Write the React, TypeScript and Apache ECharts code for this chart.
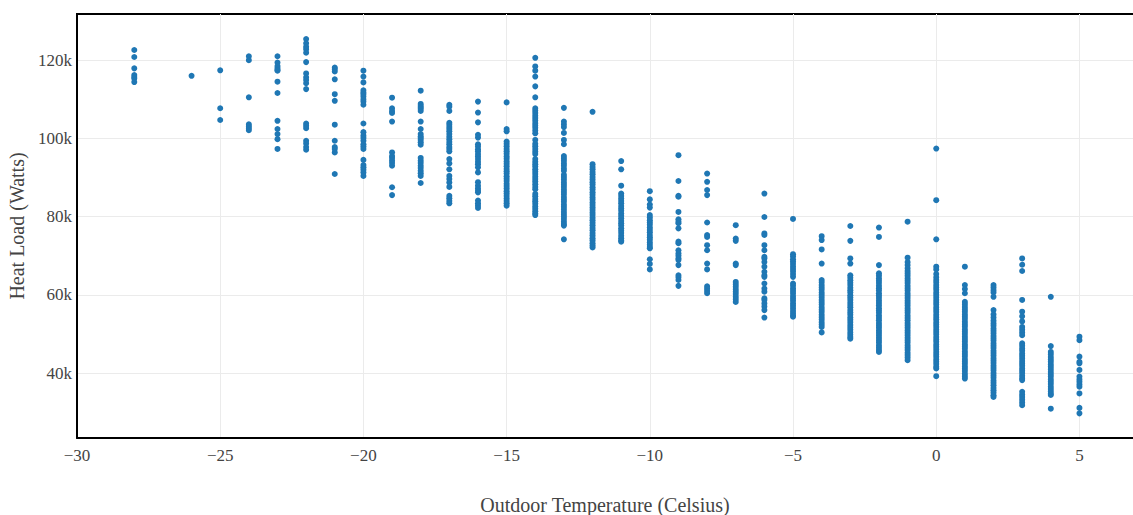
import React, { useEffect, useRef } from "react";
import * as echarts from "echarts";

// Outdoor temperature (°C) per column of points
const temperatures = [-28, -26, -25, -24, -23, -22, -21, -20, -19, -18, -17, -16, -15, -14, -13, -12, -11, -10, -9, -8, -7, -6, -5, -4, -3, -2, -1, 0, 1, 2, 3, 4, 5];

// Heat load in thousands of watts (k) for each temperature
const loadM28 = [122.6, 120.8, 117.9, 116.2, 115.7, 115.3, 114.4];
const loadM26 = [116.0];
const loadM25 = [117.4, 107.7, 104.7];
const loadM24 = [121.0, 120.0, 110.5, 103.6, 103.1, 102.6, 102.1];
const loadM23 = [121.0, 119.4, 118.5, 118.0, 117.5, 117.3, 114.5, 111.6, 104.5, 102.4, 101.1, 99.8, 97.3];
const loadM22 = [125.4, 124.3, 123.4, 122.8, 121.9, 119.5, 116.6, 115.6, 114.9, 114.1, 112.6, 103.8, 103.2, 102.6, 99.4, 98.7, 97.8, 97.1];
const loadM21 = [118.1, 117.7, 117.1, 115.1, 111.3, 109.6, 103.5, 99.4, 97.8, 97.3, 96.4, 90.9];
const loadM20 = [117.3, 115.8, 114.3, 112.3, 111.7, 111.3, 110.7, 110.0, 109.4, 108.6, 103.8, 101.6, 100.7, 100.1, 99.4, 98.5, 97.9, 97.3, 94.5, 93.2, 92.6, 92.0, 91.3, 90.4];
const loadM19 = [110.4, 107.7, 107.0, 106.5, 104.3, 96.4, 95.5, 95.0, 94.3, 93.7, 93.0, 87.5, 85.5];
const loadM18 = [112.2, 108.8, 108.3, 107.9, 107.5, 107.0, 104.3, 102.4, 101.1, 100.5, 100.1, 99.6, 99.0, 98.4, 95.0, 94.3, 93.7, 93.0, 92.4, 91.7, 91.1, 90.4, 88.6];
const loadM17 = [108.6, 108.1, 107.0, 104.0, 103.5, 102.9, 102.4, 101.8, 101.1, 100.4, 99.8, 99.1, 98.5, 97.8, 97.3, 96.7, 94.7, 93.6, 92.1, 90.4, 89.6, 88.7, 87.6, 85.3, 84.7, 84.0, 83.4];
const loadM16 = [109.4, 106.6, 104.1, 100.9, 100.2, 98.5, 97.9, 97.2, 96.7, 96.0, 95.4, 94.7, 94.0, 93.4, 92.6, 91.3, 88.8, 87.9, 87.2, 86.6, 86.2, 84.1, 83.4, 82.8, 82.2];
const loadM15 = [109.2, 102.4, 101.8, 99.2, 98.6, 98.0, 97.3, 96.7, 96.1, 95.4, 94.8, 94.1, 93.5, 92.9, 92.2, 91.6, 91.0, 90.3, 89.7, 89.1, 88.4, 87.8, 87.2, 86.5, 85.9, 85.3, 84.6, 84.0, 83.4, 82.8];
const loadM14 = [120.6, 118.4, 117.3, 115.8, 113.3, 110.5, 107.7, 107.1, 106.5, 105.8, 105.2, 104.6, 103.9, 103.3, 102.7, 102.0, 101.3, 99.6, 98.6, 98.0, 97.3, 96.6, 96.0, 94.7, 94.0, 93.4, 92.8, 92.1, 91.5, 90.9, 90.2, 89.6, 89.0, 88.3, 87.6, 87.0, 85.8, 85.2, 84.5, 83.9, 83.3, 82.6, 82.0, 81.4, 80.8, 80.4];
const loadM13 = [107.8, 104.3, 103.6, 102.9, 101.4, 99.6, 98.5, 95.5, 94.9, 94.3, 93.6, 93.0, 92.3, 91.7, 90.7, 90.1, 89.5, 88.8, 88.2, 87.6, 86.9, 86.3, 85.7, 85.0, 84.4, 83.8, 83.1, 82.5, 81.9, 81.2, 80.6, 80.0, 79.4, 78.7, 78.1, 77.7, 74.2];
const loadM12 = [106.8, 93.4, 92.7, 92.1, 91.4, 90.8, 90.1, 89.5, 88.8, 88.2, 87.5, 86.9, 86.2, 85.6, 84.9, 84.3, 83.6, 83.0, 82.3, 81.7, 81.0, 80.4, 79.7, 79.1, 78.4, 77.8, 77.1, 76.5, 75.8, 75.2, 74.5, 73.9, 73.2, 72.6, 72.1];
const loadM11 = [94.2, 92.1, 87.9, 85.9, 85.3, 84.6, 84.0, 83.4, 82.7, 82.1, 81.5, 80.8, 80.2, 79.6, 78.9, 78.3, 77.7, 77.0, 76.4, 75.8, 75.1, 74.5, 73.9, 73.6];
const loadM10 = [86.5, 84.4, 83.1, 82.3, 80.4, 79.8, 79.1, 78.5, 77.9, 77.2, 76.6, 76.0, 75.3, 74.7, 74.1, 73.4, 72.8, 72.2, 71.9, 69.1, 67.9, 66.5];
const loadM9 = [95.7, 89.1, 85.3, 85.1, 81.2, 79.3, 78.7, 78.3, 77.0, 73.6, 73.2, 71.4, 70.6, 70.0, 69.3, 68.9, 67.6, 65.0, 64.5, 63.8, 62.3];
const loadM8 = [91.0, 88.9, 86.8, 85.5, 78.5, 75.3, 74.8, 72.7, 71.4, 68.0, 66.5, 62.2, 61.6, 61.0, 60.4];
const loadM7 = [77.8, 74.4, 73.8, 68.0, 67.6, 63.3, 62.7, 62.1, 61.4, 60.8, 60.2, 59.5, 58.9, 58.2];
const loadM6 = [85.9, 79.9, 75.7, 75.3, 72.7, 71.4, 69.7, 69.3, 68.4, 67.2, 65.9, 65.0, 64.6, 62.9, 61.6, 60.8, 59.1, 58.7, 57.8, 57.0, 56.1, 54.2];
const loadM5 = [79.4, 70.4, 69.8, 69.1, 68.5, 67.9, 67.2, 66.6, 66.0, 65.3, 64.6, 62.9, 62.3, 61.6, 61.0, 60.4, 59.7, 59.1, 58.5, 57.8, 57.2, 56.6, 55.9, 55.3, 54.7, 54.4];
const loadM4 = [75.0, 74.0, 71.6, 68.0, 63.8, 63.2, 62.5, 61.9, 61.3, 60.6, 60.0, 59.4, 58.7, 58.1, 57.5, 56.8, 56.2, 55.6, 54.9, 54.3, 53.7, 53.0, 52.4, 51.8, 50.4];
const loadM3 = [77.6, 73.8, 69.3, 68.0, 65.0, 64.4, 63.7, 63.1, 62.5, 61.8, 61.2, 60.6, 59.9, 59.3, 58.7, 58.0, 57.4, 56.8, 56.1, 55.5, 54.9, 54.2, 53.6, 53.0, 52.3, 51.7, 51.1, 50.4, 49.8, 49.2, 48.8];
const loadM2 = [77.2, 74.8, 67.6, 65.5, 64.9, 64.2, 63.6, 63.0, 62.3, 61.7, 61.1, 60.4, 59.8, 59.2, 58.5, 57.9, 57.3, 56.6, 56.0, 55.4, 54.7, 54.1, 53.5, 52.8, 52.2, 51.6, 50.9, 50.3, 49.7, 49.0, 48.4, 47.8, 47.1, 46.5, 45.9, 45.4];
const loadM1 = [78.7, 69.5, 68.4, 67.6, 66.8, 66.1, 65.5, 64.9, 64.2, 63.6, 63.0, 62.3, 61.7, 61.1, 60.4, 59.8, 59.2, 58.5, 57.9, 57.3, 56.6, 56.0, 55.4, 54.7, 54.1, 53.5, 52.8, 52.2, 51.6, 50.9, 50.3, 49.7, 49.0, 48.4, 47.8, 47.1, 46.5, 45.9, 45.2, 44.6, 44.0, 43.3];
const load0 = [97.4, 84.2, 74.2, 67.2, 66.5, 65.3, 64.5, 63.8, 63.2, 62.5, 61.9, 61.3, 60.6, 60.0, 59.4, 58.7, 58.1, 57.5, 56.8, 56.2, 55.6, 54.9, 54.3, 53.7, 53.0, 52.4, 51.8, 51.1, 50.5, 49.9, 49.2, 48.6, 48.0, 47.3, 46.7, 46.1, 45.4, 44.8, 44.2, 43.5, 42.9, 42.3, 41.6, 41.2, 39.2];
const loadP1 = [67.2, 62.5, 61.5, 60.4, 58.2, 57.6, 56.9, 56.3, 55.7, 55.0, 54.4, 53.8, 53.1, 52.5, 51.9, 51.2, 50.6, 50.0, 49.3, 48.7, 48.1, 47.4, 46.8, 46.2, 45.5, 44.9, 44.3, 43.6, 43.0, 42.4, 41.7, 41.1, 40.5, 39.8, 39.2, 38.6];
const loadP2 = [62.5, 61.9, 61.2, 60.6, 59.5, 56.1, 55.0, 54.2, 53.4, 52.7, 52.1, 51.4, 50.8, 50.2, 49.5, 48.9, 48.3, 47.6, 47.0, 46.4, 45.7, 45.1, 44.5, 43.8, 43.2, 42.6, 41.9, 41.3, 40.7, 40.0, 39.4, 38.8, 38.1, 37.5, 36.9, 36.2, 35.6, 35.0, 34.3, 33.9];
const loadP3 = [69.3, 67.7, 66.1, 58.7, 55.7, 54.5, 53.2, 51.8, 51.1, 50.4, 49.7, 47.6, 47.0, 46.3, 45.7, 45.0, 44.4, 43.8, 43.1, 42.5, 41.9, 41.2, 40.6, 40.0, 39.3, 38.7, 38.2, 35.2, 34.5, 33.9, 33.2, 32.5, 31.8];
const loadP4 = [59.5, 46.9, 45.4, 44.8, 44.1, 43.5, 42.9, 42.2, 41.6, 41.0, 40.3, 39.7, 39.1, 38.4, 37.8, 37.2, 36.5, 35.9, 35.3, 34.7, 34.4, 30.9];
const loadP5 = [49.3, 48.4, 44.2, 42.9, 42.5, 40.8, 39.1, 38.4, 37.8, 37.1, 36.5, 34.8, 31.1, 29.7];

const loadsByTemperature = [loadM28, loadM26, loadM25, loadM24, loadM23, loadM22, loadM21, loadM20, loadM19, loadM18, loadM17, loadM16, loadM15, loadM14, loadM13, loadM12, loadM11, loadM10, loadM9, loadM8, loadM7, loadM6, loadM5, loadM4, loadM3, loadM2, loadM1, load0, loadP1, loadP2, loadP3, loadP4, loadP5];

const xTicks = [-30, -25, -20, -15, -10, -5, 0, 5];
const yTicks = [40, 60, 80, 100, 120];

const FONT = "'Liberation Serif', 'Times New Roman', serif";
const TEXT_COLOR = "#444";

export default function App() {
  const ref = useRef<HTMLDivElement>(null);

  useEffect(() => {
    if (!ref.current) return;
    const chart = echarts.init(ref.current, undefined, { renderer: "svg" });
    const points: number[][] = [];
    temperatures.forEach((t, i) => {
      loadsByTemperature[i].forEach((v) => points.push([t, v]));
    });

    chart.setOption({
      animation: false,
      backgroundColor: "#fff",
      grid: {
        left: 77,
        right: 0,
        top: 14,
        bottom: 77,
        containLabel: false,
        outerBoundsMode: "none",
      },
      xAxis: {
        type: "value",
        min: -30,
        max: 6.87,
        name: "Outdoor Temperature (Celsius)",
        nameLocation: "middle",
        nameGap: 57,
        nameTextStyle: { fontFamily: FONT, fontSize: 20, color: TEXT_COLOR },
        axisLine: { show: true, onZero: false, lineStyle: { color: "#000", width: 2 } },
        axisTick: { show: false, customValues: xTicks },
        axisLabel: {
          customValues: xTicks,
          fontFamily: FONT,
          fontSize: 17,
          color: TEXT_COLOR,
          margin: 9,
          formatter: (v: number) => String(v).replace("-", "\u2212"),
        },
        splitLine: { show: true, lineStyle: { color: "#ebebeb", width: 1 } },
      },
      yAxis: {
        type: "value",
        min: 23.4,
        max: 131.8,
        name: "Heat Load (Watts)",
        nameLocation: "middle",
        nameGap: 47,
        nameRotate: 90,
        nameTextStyle: { fontFamily: FONT, fontSize: 20, color: TEXT_COLOR },
        axisLine: { show: true, onZero: false, lineStyle: { color: "#000", width: 2 } },
        axisTick: { show: false, customValues: yTicks },
        axisLabel: {
          customValues: yTicks,
          fontFamily: FONT,
          fontSize: 17,
          color: TEXT_COLOR,
          margin: 5,
          formatter: (v: number) => `${v}k`,
        },
        splitLine: { show: true, lineStyle: { color: "#ebebeb", width: 1 } },
      },
      graphic: [
        {
          type: "line",
          shape: { x1: 76, y1: 14, x2: 1133, y2: 14 },
          style: { stroke: "#000", lineWidth: 2 },
          silent: true,
        },
      ],
      series: [
        {
          type: "scatter",
          data: points,
          symbolSize: 6,
          itemStyle: { color: "#1f77b4", opacity: 1 },
        },
      ],
    });
    return () => chart.dispose();
  }, []);

  return (
    <div
      ref={ref}
      style={{ position: "fixed", left: 0, top: 0, width: 1133, height: 515 }}
    />
  );
}
